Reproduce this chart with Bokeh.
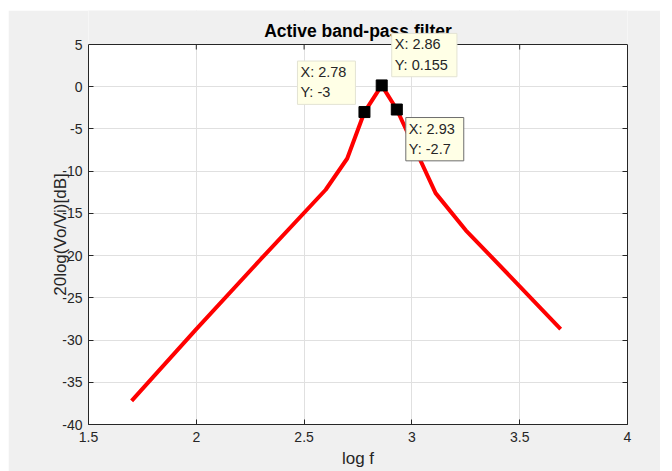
import math
from bokeh.plotting import figure
from bokeh.models import Label, LinearAxis, FixedTicker, Range1d, BoxAnnotation, Span
from bokeh.embed import file_html
from bokeh.resources import INLINE

# ---- data ----
log_f = [1.70, 2.00, 2.30, 2.60, 2.70, 2.78, 2.86, 2.93, 3.11, 3.25, 3.45, 3.69]
gain_db = [-37.2, -28.7, -20.4, -12.2, -8.5, -3.0, 0.155, -2.7, -12.6, -17.0, -22.3, -28.7]

tip_x = [2.78, 2.86, 2.93]
tip_y = [-3.0, 0.155, -2.7]
tip_text = ["X: 2.78\nY: -3", "X: 2.86\nY: 0.155", "X: 2.93\nY: -2.7"]

x_min, x_max = 1.5, 4.0
y_min, y_max = -40, 5
x_ticks = [1.5, 2.0, 2.5, 3.0, 3.5, 4.0]
y_ticks = [-40, -35, -30, -25, -20, -15, -10, -5, 0, 5]

title_text = "Active band-pass filter"
x_label = "log f"
y_label = "20log(Vo/Vi)[dB]"

FONT = "Liberation Sans"
DARK = "#262626"
BG = "#f0f0f0"

# layout: axes box 539 x 380 px, plus a 34 px strip above it (title area)
AX_H = 380
TOP_STRIP = 34
px_per_unit = AX_H / (y_max - y_min)
y_top = y_max + TOP_STRIP / px_per_unit

p = figure(frame_width=539, frame_height=AX_H + TOP_STRIP,
           x_range=Range1d(x_min, x_max), y_range=Range1d(y_min, y_top),
           output_backend="svg", toolbar_location=None,
           min_border_left=80, min_border_right=33,
           min_border_top=0, min_border_bottom=47,
           background_fill_color="white", border_fill_color=BG,
           outline_line_color=None)
p.margin = (10, 12, 0, 8)
p.title.visible = False

def style_axis(ax, labels=True):
    ax.axis_line_color = DARK
    ax.major_tick_in = 5
    ax.major_tick_out = 0
    ax.minor_tick_in = 0
    ax.minor_tick_out = 0
    ax.major_tick_line_color = DARK
    ax.major_label_text_font = FONT
    ax.major_label_text_font_size = "14px"
    ax.major_label_text_color = DARK
    ax.axis_label_text_font = FONT
    ax.axis_label_text_font_size = "17px"
    ax.axis_label_text_font_style = "normal"
    ax.axis_label_text_color = DARK
    if not labels:
        ax.major_label_text_font_size = "0px"
        ax.major_label_text_alpha = 0

xa = p.xaxis[0]
ya = p.yaxis[0]
xa.ticker = FixedTicker(ticks=x_ticks)
ya.ticker = FixedTicker(ticks=y_ticks)
ya.bounds = (y_min, y_max)
xa.major_label_overrides = {t: f"{t:g}" for t in x_ticks}
ya.major_label_overrides = {t: f"{t:g}" for t in y_ticks}
style_axis(xa)
style_axis(ya)
xa.axis_label = x_label
xa.major_label_standoff = 7
xa.axis_label_standoff = 4
ya.major_label_standoff = 6

right_ax = LinearAxis(ticker=FixedTicker(ticks=y_ticks), bounds=(y_min, y_max))
style_axis(right_ax, labels=False)
p.add_layout(right_ax, "right")

inner_x = [t for t in x_ticks if x_min < t < x_max]
inner_y = [t for t in y_ticks if y_min < t < y_max]
p.xgrid.ticker = FixedTicker(ticks=inner_x)
p.ygrid.ticker = FixedTicker(ticks=inner_y)
p.grid.grid_line_color = "#e0e0e0"
p.grid.grid_line_width = 1

p.line(log_f, gain_db, line_color="#ff0000", line_width=4)
p.scatter(tip_x, tip_y, marker="square", size=11, fill_color="black", line_color="black")
# inward ticks of the top edge of the box
p.scatter(inner_x, [y_max] * len(inner_x), marker="dash", angle=math.pi / 2, size=10,
          line_color=DARK, line_width=1)

# strip above the axes box (title area), covering the frame fully in width
span_x = x_max - x_min
p.add_layout(BoxAnnotation(bottom=y_max, top=y_top + span_x, left=x_min - span_x,
                           right=x_max + span_x, fill_color=BG, fill_alpha=1.0,
                           line_color=None))
p.add_layout(Span(location=y_max, dimension="width", line_color=DARK, line_width=1))

# title
p.add_layout(Label(x=0.5 * (x_min + x_max), y=y_max, y_offset=14, text=title_text,
                   text_align="center", text_baseline="middle", text_font=FONT,
                   text_font_size="17.5px", text_font_style="bold", text_color="black"))

# y label overlapping the tick labels, as in the original
p.add_layout(Label(x=20, y=0.5 * (y_min + y_max), x_units="screen", y_units="data",
                   text=y_label, angle=math.pi / 2, text_align="center",
                   text_baseline="middle", text_font=FONT, text_font_size="17px",
                   text_color=DARK), "left")

# data tips (screen offsets from their data point)
tip_cfg = [
    dict(dx=-67, dy=51, border="#e3e3d3"),
    dict(dx=10, dy=52, border="#e3e3d3"),
    dict(dx=9, dy=-8, border="#6e6e6e"),
]
for tx, ty, tt, c in zip(tip_x, tip_y, tip_text, tip_cfg):
    p.add_layout(Label(x=tx, y=ty, text=tt, x_offset=c["dx"], y_offset=c["dy"],
                       text_align="left", text_baseline="top",
                       text_font=FONT, text_font_size="14.5px", text_color=DARK,
                       text_line_height=1.27,
                       background_fill_color="#ffffe6", background_fill_alpha=1.0,
                       border_line_color=c["border"], border_line_width=1,
                       padding=(3, 9, 3, 4)))

open("out.html", "w").write(file_html(p, INLINE))
